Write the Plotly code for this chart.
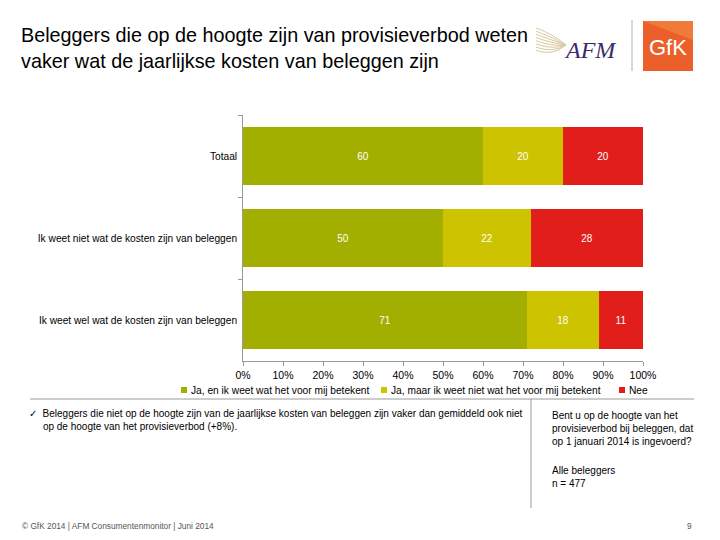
import plotly.graph_objects as go

categories = ["Totaal", "Ik weet niet wat de kosten zijn van beleggen", "Ik weet wel wat de kosten zijn van beleggen"]
series_names = ["Ja, en ik weet wat het voor mij betekent", "Ja, maar ik weet niet wat het voor mij betekent", "Nee"]
ja_weet = [60, 50, 71]
ja_niet = [20, 22, 18]
nee = [20, 28, 11]
colors = ["#A3AF00", "#CEC300", "#E11E19"]
x_ticks = [0, 10, 20, 30, 40, 50, 60, 70, 80, 90, 100]
x_labels = [f"{v}%" for v in x_ticks]

FONT = "Liberation Sans, Arial, sans-serif"

fig = go.Figure()
for name, vals, col in zip(series_names, [ja_weet, ja_niet, nee], colors):
    fig.add_trace(go.Bar(
        y=categories, x=vals, name=name, orientation="h",
        marker=dict(color=col, line=dict(width=0)),
        text=[str(v) for v in vals], textposition="inside", insidetextanchor="middle",
        textfont=dict(color="white", size=10, family=FONT),
        showlegend=False,
    ))

OFF = 8  # page body margin offset
W, H = 720, 540
L, R, T, B = 243 - OFF, 643 - OFF, 115 - OFF, 361 - OFF

fig.update_layout(
    width=W, height=H, barmode="stack", bargap=0.29,
    margin=dict(l=L, r=W - R, t=T, b=H - B),
    plot_bgcolor="white", paper_bgcolor="white",
    font=dict(family=FONT, color="black", size=10),
    showlegend=False,
    xaxis=dict(range=[0, 100], tickvals=x_ticks, ticktext=x_labels, showgrid=False, zeroline=False,
               showline=True, linecolor="#999999", linewidth=1, ticks="outside", ticklen=4,
               tickcolor="#999999", tickfont=dict(size=10.5, family=FONT)),
    yaxis=dict(autorange="reversed", showgrid=False, showline=True, linecolor="#999999", linewidth=1,
               ticks="outside", ticklen=4, tickcolor="#999999", tickson="boundaries",
               tickfont=dict(size=10.2, family=FONT), ticksuffix=" "),
)

# convert page pixels (as seen in the screenshot) to paper (plot-domain) coordinates
def px(x):
    return (x - OFF - L) / (R - L)

def py(y):
    return (B - (y - OFF)) / (B - T)

def ann(x, y, text, size, color="black", xanchor="left", yanchor="top", family=FONT):
    fig.add_annotation(xref="paper", yref="paper", x=px(x), y=py(y), xanchor=xanchor, yanchor=yanchor,
                       text=text, showarrow=False, align="left",
                       font=dict(size=size, family=family, color=color))

# Title
ann(19, 22, "Beleggers die op de hoogte zijn van provisieverbod weten<br>vaker wat de jaarlijkse kosten van beleggen zijn", 19.8)

shapes = []
# separator lines
shapes.append(dict(type="line", xref="paper", yref="paper", x0=px(30), x1=px(694), y0=py(399), y1=py(399),
                   line=dict(color="#9a9a9a", width=1)))
shapes.append(dict(type="line", xref="paper", yref="paper", x0=px(531), x1=px(531), y0=py(399), y1=py(508),
                   line=dict(color="#9a9a9a", width=1)))
# logo separator
shapes.append(dict(type="line", xref="paper", yref="paper", x0=px(632), x1=px(632), y0=py(20), y1=py(71),
                   line=dict(color="#b0b0b0", width=1)))
# GfK box
shapes.append(dict(type="rect", xref="paper", yref="paper", x0=px(643), x1=px(693), y0=py(71), y1=py(21),
                   fillcolor="#EA5F2A", line=dict(width=0)))
shapes.append(dict(type="path", xref="paper", yref="paper",
                   path=f"M {px(643)},{py(21)} L {px(693)},{py(21)} L {px(693)},{py(40)} Z",
                   fillcolor="#F07A3A", line=dict(width=0)))
# AFM feathers
for i in range(8):
    y0 = 28 + i * 3.2
    shapes.append(dict(type="path", xref="paper", yref="paper",
                       path=f"M {px(536)},{py(y0)} Q {px(553)},{py(y0 + 6)} {px(566)},{py(45)}",
                       line=dict(color="#D8C9A0", width=1)))

# manual legend
legend_x = [181, 381, 619]
for lx, name, col in zip(legend_x, series_names, colors):
    shapes.append(dict(type="rect", xref="paper", yref="paper", x0=px(lx), x1=px(lx + 6),
                       y0=py(393), y1=py(387), fillcolor=col, line=dict(width=0)))
    ann(lx + 8, 390, name, 10.2, yanchor="middle")

fig.update_layout(shapes=shapes)

ann(590, 50, "<i>AFM</i>", 24, color="#3A2B6B", xanchor="center", yanchor="middle",
    family="Liberation Serif, Times New Roman, serif")
ann(668, 47, "GfK", 22, color="white", xanchor="center", yanchor="middle",
    family="Liberation Sans Narrow, Liberation Sans, sans-serif")

# bullet note
ann(27, 406, "✓  Beleggers die niet op de hoogte zijn van de jaarlijkse kosten van beleggen zijn vaker dan gemiddeld ook niet<br>     op de hoogte van het provisieverbod (+8%).", 10)

# right side question
ann(550, 408, "Bent u op de hoogte van het<br>provisieverbod bij beleggen, dat<br>op 1 januari 2014 is ingevoerd?", 10)
ann(550, 463, "Alle beleggers<br>n = 477", 10)

# footer
ann(20, 526, "© GfK 2014 | AFM Consumentenmonitor | Juni 2014", 8.3, color="#555555", yanchor="middle")
ann(694, 526, "9", 8.3, color="#555555", xanchor="right", yanchor="middle")

fig.write_html("out.html")
